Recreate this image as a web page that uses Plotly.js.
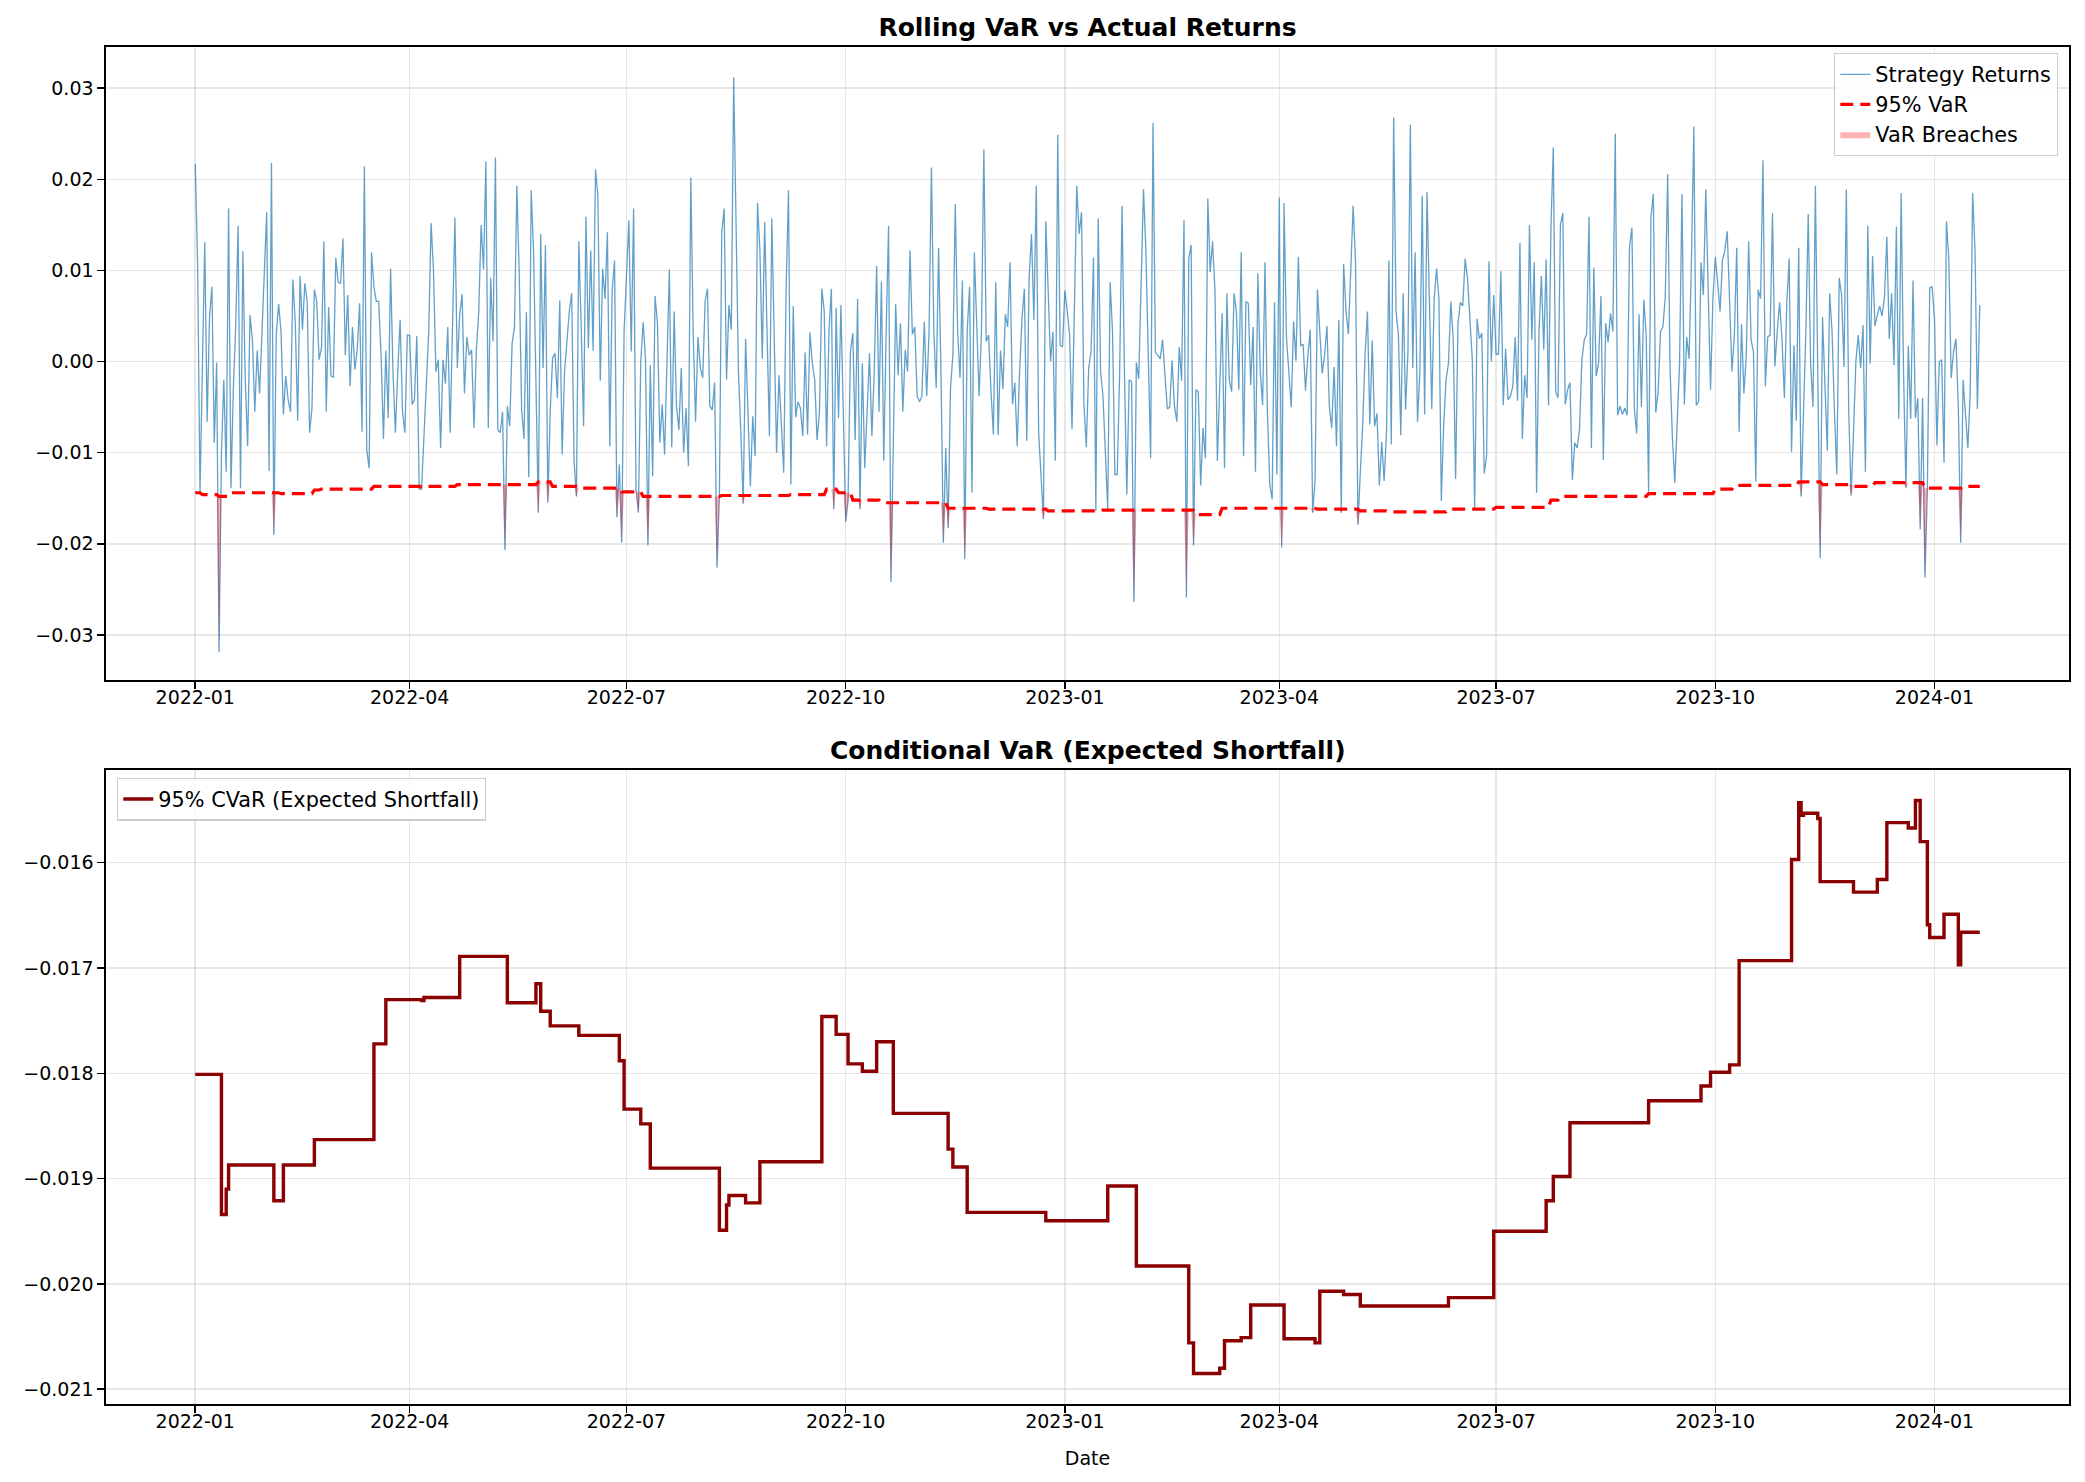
<!DOCTYPE html>
<html>
<head>
<meta charset="utf-8">
<script src="https://cdn.plot.ly/plotly-3.0.1.min.js"></script>
<style>html,body{margin:0;padding:0;background:#fff;}#chart{width:2085px;height:1482px;}</style>
</head>
<body>
<div id="chart"></div>
<script>
// ---- data (returns in percent, one value per calendar day from 2022-01-01) ----
const startDate = '2022-01-01';
const returnsPct = [
2.17,1.08,-1.44,-0.2,1.31,-0.66,0.49,0.82,-0.89,-0.01,
-3.19,-1.0,-0.2,-1.21,1.68,-1.39,-0.3,0.4,1.49,-1.39,
1.21,-0.2,-0.93,0.51,0.24,-0.55,0.12,-0.35,0.3,0.9,
1.64,-1.2,2.18,-1.9,0.3,0.63,0.33,-0.58,-0.16,-0.42,
-0.55,0.9,0.42,-0.65,0.94,0.35,0.86,0.66,-0.78,-0.51,
0.79,0.66,0.02,0.15,1.32,-0.55,0.6,-0.16,-0.17,1.14,
0.87,0.86,1.35,0.07,0.73,-0.27,0.38,-0.09,0.13,0.64,
-0.77,2.14,-0.97,-1.17,1.2,0.82,0.66,0.66,0.07,-0.85,
0.12,-0.62,
1.02,-0.11,-0.78,-0.11,0.46,-0.55,-0.78,0.29,0.29,-0.47,
-0.42,0.28,-1.40,-1.40,-0.78,-0.11,0.33,1.52,1.0,-0.11,
0.02,-0.95,0.02,-0.24,0.38,-0.78,0.33,1.58,-0.07,0.51,
0.74,-0.35,0.27,0.07,0.13,-0.73,0.13,0.55,1.50,1.01,
2.20,-0.73,0.92,0.22,2.24,-0.75,-0.78,-0.55,-2.07,-0.49,
-0.71,0.2,0.38,1.93,0.95,-0.53,-0.85,0.54,-1.27,1.88,
1.22,-0.2,-1.66,1.40,-0.07,1.28,-1.55,-0.55,0.04,0.09,
-0.4,0.67,-1.02,-0.11,0.24,0.55,0.75,-1.09,-1.48,1.32,
0.38,-0.71,1.59,0.15,
1.22,0.12,2.11,1.82,-0.21,1.02,0.69,1.42,-0.93,0.78,
1.11,-1.71,-1.13,-1.99,0.33,0.95,1.55,0.11,1.68,-1.40,
-1.66,0,0.43,0.02,-2.02,-0.04,-1.26,0.72,0.42,-0.89,
-0.47,-1.02,-0.11,1.01,-0.94,0.55,-0.49,-0.75,-0.07,-1.0,
-0.51,-1.15,2.02,0.33,-0.66,0.27,-0.07,-0.18,0.66,0.8,
-0.49,-0.53,-0.23,-2.26,-1.48,1.42,1.68,-0.2,0.62,0.35,
3.12,1.22,-0.11,-0.78,-1.56,0.25,-0.55,-1.37,-0.6,-1.04,
1.74,1.22,0.03,1.53,0.33,-0.82,1.57,0.33,-1.0,-0.15,
-0.66,-1.22,0.78,1.88,
-1.35,0.61,-0.61,-0.44,-0.51,-0.82,0.1,-0.8,0.32,-0.02,
-0.2,-0.86,-0.55,0.8,0.55,-0.93,0.33,0.8,-1.62,0.59,
-0.62,0.62,-0.55,-1.76,-1.53,0.11,0.31,-0.86,0.69,-1.62,
-0.02,-1.17,-0.55,0.09,-0.82,-0.11,1.05,-0.55,0.88,-1.09,
0.33,1.49,-2.42,-0.69,0.63,-0.15,0.42,-0.55,0.13,-0.11,
1.22,0.3,0.38,-0.38,-0.44,-0.38,0.44,-0.38,0.33,2.13,
0.33,-0.29,1.25,-0.11,-1.99,-0.95,-1.83,-0.29,0.07,1.73,
0.33,-0.18,0.89,-2.17,0.33,0.82,-1.44,1.2,0.33,-0.38,
0.33,2.33,0.22,
0.29,-0.33,-0.8,0.87,-0.81,0.12,-0.3,0.52,0.38,1.09,
-0.47,-0.23,-0.93,-0.11,0.47,0.8,-0.87,0.93,1.4,0.46,
1.93,-0.78,-1.22,-1.73,1.54,0.78,0,0.33,-1.09,2.49,
0.18,0.16,0.78,0.55,0.29,-0.74,0.78,1.93,1.4,1.64,
-0.47,-0.94,-0.07,0.11,1.14,-1.64,1.57,-0.11,-0.38,-1.0,
-1.62,0.87,0.33,-1.24,-1.24,-0.11,1.71,-0.11,-1.46,-0.2,
-0.22,-2.64,-0.01,-0.19,0.78,1.89,1.22,-0.11,-1.06,2.62,
0.1,0.07,0.03,0.24,-0.11,-0.52,-0.5,0.01,-0.49,-0.66,
0.16,-0.21,1.55,-2.59,
1.13,1.28,-2.02,-0.31,-0.33,-1.36,-0.73,-1.06,1.79,0.98,
1.32,0.78,-1.09,-0.33,0.53,-1.17,0.75,-0.2,-0.33,0.75,
0.55,-0.31,1.2,-1.04,0.66,0.64,-0.26,0.38,-1.21,0.97,
-0.11,-0.48,1.09,-0.55,-1.35,-1.51,0.65,-1.24,1.8,-2.04,
1.74,0.27,-0.11,-0.5,0.44,0.01,1.15,0.17,0.19,-0.32,
0.07,0.35,-1.66,-1.31,0.79,0.33,-0.13,0.07,0.39,-0.49,
-0.73,-0.06,-0.93,0.46,-1.66,1.07,0.55,0.3,1.0,1.71,
1.09,-1.79,-1.22,-0.69,0.07,0.55,-0.69,0.23,-0.71,-0.57,
-1.36,-0.88,-1.31,-0.78,
1.11,-0.91,2.68,0.55,0.29,-0.81,0.75,-0.53,0.11,2.6,
-0.07,1.2,-0.66,-0.11,1.82,-0.58,1.86,0.78,-0.52,0.69,
1.02,0.69,-1.53,-0.69,-0.2,-0.02,0.66,0.24,-1.29,0.42,
0.65,0.61,1.13,0.91,0.51,0.02,-1.62,0.47,0.25,0.31,
-1.23,-1.04,1.1,0,0.73,0.08,0.08,0.99,-0.48,0.14,
-0.42,-0.38,-0.27,0.27,-0.43,1.3,-0.85,-0.15,-0.4,1.5,
0.24,1.09,-1.44,0.33,0.94,0.13,1.12,-0.48,1.44,2.35,
-0.33,-0.4,1.5,1.63,-0.47,-0.31,-0.23,-1.3,-0.89,-0.95,
-0.75,0.02,0.24,0.3,
1.59,-0.95,1.03,-0.16,-0.02,0.72,-1.08,0.42,0.21,0.53,
0.33,2.5,-0.59,-0.49,-0.58,-0.51,-0.59,1.26,1.47,-0.51,
-0.79,0.52,-0.5,0.68,0.29,-1.43,1.59,1.84,-0.56,-0.33,
0.33,0.38,0.71,2.06,-0.07,-0.84,-1.33,-0.64,-0.02,1.84,
-0.47,0.27,0.03,1.13,2.58,-0.48,-0.44,1.09,0.73,1.89,
0.78,-0.31,0.69,1.15,0.86,0.55,1.11,1.22,1.43,0.55,
-0.11,0.29,1.25,-0.77,0.41,-0.35,0.07,1.32,0.24,0.11,
-1.32,0.79,0.69,2.21,-0.27,0.27,0.29,1.63,-0.05,0.33,
0.65,0.24,-0.4,0.64,
1.13,-0.99,0.18,-0.65,1.25,-1.48,-0.55,0.33,1.62,-0.02,
-0.5,1.93,-0.11,-2.16,0.49,-0.33,-0.98,0.75,0.33,-0.55,
-1.24,0.92,0.73,-0.06,1.89,-0.55,-1.47,-0.78,0,0.29,
-0.07,0.4,-1.21,1.49,-0.02,1.16,0.39,0.51,0.61,0.5,
0.71,1.37,0.25,0.75,-0.04,1.48,-0.63,1.85,-0.11,-1.39,
0.17,-0.63,0.89,-0.62,-0.4,-1.84,-0.4,-2.37,-1.4,0.81,
0.82,0.47,-0.92,0,0.02,-1.11,1.54,1.13,-0.18,0.11,
0.25,-0.51,-1.99,-0.2,-0.55,-0.95,-0.33,1.85,1.22,-0.52,
0.62
];

// 95% rolling VaR (percent): day index where the level changes, and the new level
const varChangeDay = [0,3,10,15,36,50,53,75,110,144,150,161,179,188,221,250,265,270,276,288,316,333,358,381,420,431,471,489,501,526,546,569,573,610,638,646,673,683,696,705,726,742];
const varLevelPct  = [-1.44,-1.46,-1.48,-1.44,-1.45,-1.41,-1.40,-1.37,-1.35,-1.32,-1.37,-1.39,-1.43,-1.48,-1.47,-1.46,-1.40,-1.44,-1.52,-1.55,-1.61,-1.62,-1.64,-1.63,-1.68,-1.61,-1.62,-1.64,-1.65,-1.62,-1.60,-1.52,-1.48,-1.45,-1.40,-1.36,-1.32,-1.35,-1.37,-1.33,-1.39,-1.37];

// 95% CVaR (expected shortfall, percent): change day and level
const cvarChangeDay = [0,11,13,14,33,37,50,75,80,95,96,111,131,143,145,149,161,178,180,187,191,220,223,224,231,237,263,269,274,280,286,293,316,318,324,357,383,395,417,419,430,432,439,443,457,470,472,482,489,526,545,567,570,577,610,632,636,644,648,670,673,674,675,681,682,696,706,710,719,722,724,727,728,734,740,741,749];
const cvarLevelPct  = [-1.801,-1.934,-1.910,-1.887,-1.921,-1.887,-1.863,-1.772,-1.730,-1.731,-1.728,-1.689,-1.733,-1.715,-1.741,-1.755,-1.764,-1.788,-1.834,-1.848,-1.890,-1.949,-1.925,-1.916,-1.923,-1.884,-1.746,-1.763,-1.791,-1.798,-1.770,-1.838,-1.872,-1.889,-1.932,-1.940,-1.907,-1.983,-2.056,-2.085,-2.080,-2.054,-2.051,-2.020,-2.052,-2.056,-2.007,-2.010,-2.021,-2.013,-1.950,-1.921,-1.898,-1.847,-1.826,-1.812,-1.799,-1.792,-1.693,-1.597,-1.543,-1.555,-1.553,-1.558,-1.618,-1.628,-1.616,-1.562,-1.567,-1.541,-1.580,-1.659,-1.671,-1.649,-1.697,-1.666,-1.666];

const tickDates  = ['2022-01-01','2022-04-01','2022-07-01','2022-10-01','2023-01-01','2023-04-01','2023-07-01','2023-10-01','2024-01-01'];
const tickLabels = ['2022-01','2022-04','2022-07','2022-10','2023-01','2023-04','2023-07','2023-10','2024-01'];

// ---- build series ----
const DAY = 86400000;
const t0 = Date.parse(startDate + 'T00:00:00Z');
const dayToDate = i => new Date(t0 + i * DAY).toISOString().slice(0, 10);
const dates = returnsPct.map((_, i) => dayToDate(i));
const returns = returnsPct.map(v => v / 100);

// VaR level held for each day (step function)
const varDaily = [];
let k = 0;
for (let i = 0; i < returns.length; i++) {
  while (k + 1 < varChangeDay.length && varChangeDay[k + 1] <= i) k++;
  varDaily.push(varLevelPct[k] / 100);
}
const breachLow = returns.map((r, i) => Math.min(r, varDaily[i]));

const cvarDates = cvarChangeDay.map(dayToDate);
const cvar = cvarLevelPct.map(v => v / 100);

// axis range: data span padded by 5% (as in the reference)
const nDays = returns.length - 1;
const pad = nDays * 0.05;
const xr = [new Date(t0 - pad * DAY).toISOString(), new Date(t0 + (nDays + pad) * DAY).toISOString()];

const FONT = 'DejaVu Sans, Liberation Sans, sans-serif';

const traces = [
  {x: dates, y: returns, type: 'scatter', mode: 'lines', name: 'Strategy Returns',
   line: {color: 'rgba(31,119,180,0.7)', width: 1.3}, xaxis: 'x', yaxis: 'y', legend: 'legend'},
  {x: dates, y: varDaily, type: 'scatter', mode: 'lines', name: '95% VaR',
   line: {color: '#ff0000', width: 3.2, dash: '13px,7px'}, xaxis: 'x', yaxis: 'y', legend: 'legend'},
  {x: dates, y: varDaily, type: 'scatter', mode: 'lines', showlegend: false, hoverinfo: 'skip',
   line: {color: 'rgba(0,0,0,0)', width: 0}, xaxis: 'x', yaxis: 'y'},
  {x: dates, y: breachLow, type: 'scatter', mode: 'lines', name: 'VaR Breaches', fill: 'tonexty',
   fillcolor: 'rgba(255,0,0,0.3)', line: {color: 'rgba(255,0,0,0.3)', width: 0}, xaxis: 'x', yaxis: 'y', legend: 'legend'},
  {x: cvarDates, y: cvar, type: 'scatter', mode: 'lines', name: '95% CVaR (Expected Shortfall)',
   line: {color: '#8b0000', width: 3.4, shape: 'hv'}, xaxis: 'x2', yaxis: 'y2', legend: 'legend2'}
];

const axisCommon = {
  showline: true, mirror: true, linecolor: '#000', linewidth: 1.6,
  ticks: 'outside', ticklen: 7, tickwidth: 1.6, tickcolor: '#000',
  showgrid: true, gridcolor: 'rgba(176,176,176,0.3)', gridwidth: 1.6, zeroline: false,
  tickfont: {family: FONT, size: 19, color: '#000'}
};

const legendFont = {family: FONT, size: 20.8, color: '#000'};

const layout = {
  width: 2085, height: 1482,
  margin: {l: 106, r: 16, t: 47, b: 78},
  paper_bgcolor: '#fff', plot_bgcolor: '#fff',
  font: {family: FONT, size: 19, color: '#000'},
  title: {text: '<b>Rolling VaR vs Actual Returns</b>', font: {family: FONT, size: 25, color: '#000'},
          x: 0.5, xref: 'paper', xanchor: 'center', y: 1 - 27 / 1482, yref: 'container', yanchor: 'middle'},
  xaxis: Object.assign({}, axisCommon, {domain: [0, 1], anchor: 'y', type: 'date', range: xr,
          tickmode: 'array', tickvals: tickDates, ticktext: tickLabels, ticklabelstandoff: -7}),
  yaxis: Object.assign({}, axisCommon, {domain: [0.5335, 1], anchor: 'x', range: [-0.03496, 0.03453],
          tickmode: 'linear', tick0: 0, dtick: 0.01, tickformat: '.2f'}),
  xaxis2: Object.assign({}, axisCommon, {domain: [0, 1], anchor: 'y2', type: 'date', range: xr,
          tickmode: 'array', tickvals: tickDates, ticktext: tickLabels, ticklabelstandoff: -7,
          title: {text: 'Date', font: {family: FONT, size: 19, color: '#000'}, standoff: 20}}),
  yaxis2: Object.assign({}, axisCommon, {domain: [0, 0.4672], anchor: 'x2', range: [-0.02114, -0.01512],
          tickmode: 'linear', tick0: -0.016, dtick: 0.001, tickformat: '.3f'}),
  legend: {x: 0.9944, y: 0.9956, xanchor: 'right', yanchor: 'top', xref: 'paper', yref: 'paper',
           traceorder: 'normal',
           bgcolor: 'rgba(255,255,255,0.8)', bordercolor: '#cccccc', borderwidth: 1.3,
           font: legendFont, tracegroupgap: 0},
  legend2: {x: 0.0056, y: 0.4615, xanchor: 'left', yanchor: 'top', xref: 'paper', yref: 'paper',
           bgcolor: 'rgba(255,255,255,0.8)', bordercolor: '#cccccc', borderwidth: 1.3,
           font: legendFont},
  annotations: [
    {text: '<b>Conditional VaR (Expected Shortfall)</b>', xref: 'paper', yref: 'paper', x: 0.5, y: (1404 - 750) / 1357,
     xanchor: 'center', yanchor: 'middle', showarrow: false, font: {family: FONT, size: 25, color: '#000'}}
  ],
  showlegend: true
};

Plotly.newPlot('chart', traces, layout, {displayModeBar: false, staticPlot: true});
</script>
</body>
</html>
